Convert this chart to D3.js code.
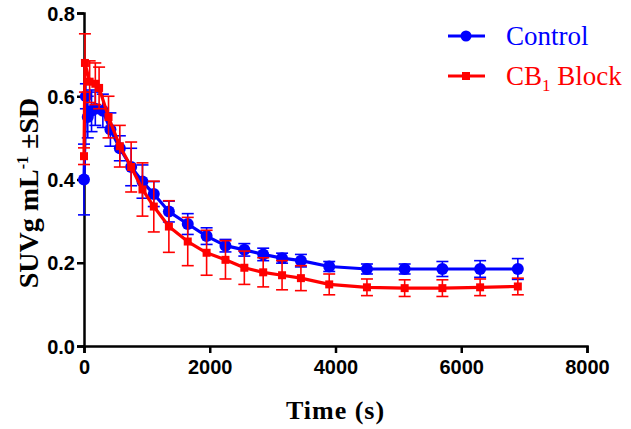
<!DOCTYPE html>
<html>
<head>
<meta charset="utf-8">
<script src="https://cdn.jsdelivr.net/npm/d3@7"></script>
<style>
  body { margin: 0; background: #fff; }
  .tick text { font-family: "Liberation Sans", Arial, sans-serif; font-weight: bold; font-size: 20px; fill: #000; }
</style>
</head>
<body>
<div id="chart"></div>
<script>
// data (time in s, SUV g/mL, SD)
var controlTime = [0, 30, 60, 120, 180, 300, 420, 570, 750, 930, 1110, 1350, 1650, 1950, 2250, 2550, 2850, 3150, 3450, 3900, 4500, 5100, 5700, 6300, 6900];
var controlMean = [0.40, 0.60, 0.55, 0.565, 0.57, 0.565, 0.52, 0.475, 0.43, 0.395, 0.365, 0.323, 0.293, 0.264, 0.241, 0.231, 0.220, 0.211, 0.205, 0.191, 0.185, 0.185, 0.185, 0.185, 0.185];
var controlSD = [0.085, 0.03, 0.05, 0.05, 0.04, 0.04, 0.04, 0.03, 0.045, 0.04, 0.03, 0.025, 0.025, 0.02, 0.015, 0.015, 0.015, 0.012, 0.015, 0.012, 0.012, 0.012, 0.018, 0.02, 0.025];

var blockTime = [0, 15, 90, 180, 240, 390, 570, 750, 930, 1110, 1350, 1650, 1950, 2250, 2550, 2850, 3150, 3450, 3900, 4500, 5100, 5700, 6300, 6900];
var blockMean = [0.456, 0.68, 0.635, 0.63, 0.62, 0.55, 0.48, 0.43, 0.376, 0.335, 0.287, 0.251, 0.224, 0.207, 0.188, 0.177, 0.170, 0.163, 0.148, 0.141, 0.139, 0.139, 0.141, 0.143];
var blockSD = [0.02, 0.07, 0.05, 0.05, 0.05, 0.05, 0.05, 0.06, 0.064, 0.061, 0.062, 0.058, 0.054, 0.046, 0.04, 0.035, 0.035, 0.03, 0.025, 0.02, 0.02, 0.02, 0.02, 0.02];

var xTicks = [0, 2000, 4000, 6000, 8000];
var yTicks = [0.0, 0.2, 0.4, 0.6, 0.8];

var svgWidth = 631, svgHeight = 429;
var margin = { top: 13, right: 44, bottom: 83, left: 84 };
var width = svgWidth - margin.left - margin.right;
var height = svgHeight - margin.top - margin.bottom;

var svg = d3.select("#chart").append("svg")
  .attr("width", svgWidth)
  .attr("height", svgHeight);

var chartGroup = svg.append("g")
  .attr("transform", `translate(${margin.left}, ${margin.top})`);

var xScale = d3.scaleLinear().domain([0, 8000]).range([0, width]);
var yScale = d3.scaleLinear().domain([0, 0.8]).range([height, 0]);

// axes
var bottomAxis = d3.axisBottom(xScale).tickValues(xTicks).tickSize(7).tickPadding(4).tickFormat(d3.format("d"));
var leftAxis = d3.axisLeft(yScale).tickValues(yTicks).tickSize(7).tickPadding(2).tickFormat(d3.format(".1f"));

var xAxisG = chartGroup.append("g")
  .attr("transform", `translate(0, ${height})`)
  .call(bottomAxis);
var yAxisG = chartGroup.append("g").call(leftAxis);

[xAxisG, yAxisG].forEach(function(g) {
  g.select(".domain").attr("stroke", "#000").attr("stroke-width", 2.5);
  g.selectAll(".tick line").attr("stroke", "#000").attr("stroke-width", 2.5);
});
xAxisG.selectAll(".tick text").attr("dy", "0.85em");
yAxisG.selectAll(".tick text").attr("dy", "0.36em");

function buildSeries(times, means, sds) {
  return times.map(function(t, i) { return { t: t, m: means[i], sd: sds[i] }; });
}

var series = [
  { name: "Control", color: "#0000ff", shape: "circle", data: buildSeries(controlTime, controlMean, controlSD) },
  { name: "CB1 Block", color: "#ff0000", shape: "square", data: buildSeries(blockTime, blockMean, blockSD) }
];

var line = d3.line().x(d => xScale(d.t)).y(d => yScale(d.m));
var capW = 6;

series.forEach(function(s) {
  var g = chartGroup.append("g");
  // error bars
  var eb = g.selectAll(".eb").data(s.data).enter().append("g")
    .attr("stroke", s.color).attr("stroke-width", 1.6).attr("fill", "none");
  eb.append("line")
    .attr("x1", d => xScale(d.t)).attr("x2", d => xScale(d.t))
    .attr("y1", d => yScale(d.m - d.sd)).attr("y2", d => yScale(d.m + d.sd));
  eb.append("line")
    .attr("x1", d => xScale(d.t) - capW).attr("x2", d => xScale(d.t) + capW)
    .attr("y1", d => yScale(d.m + d.sd)).attr("y2", d => yScale(d.m + d.sd));
  eb.append("line")
    .attr("x1", d => xScale(d.t) - capW).attr("x2", d => xScale(d.t) + capW)
    .attr("y1", d => yScale(d.m - d.sd)).attr("y2", d => yScale(d.m - d.sd));
  // line
  g.append("path").datum(s.data)
    .attr("d", line).attr("fill", "none")
    .attr("stroke", s.color).attr("stroke-width", 3.2).attr("stroke-linejoin", "round");
  // markers
  if (s.shape === "circle") {
    g.selectAll(".pt").data(s.data).enter().append("circle")
      .attr("cx", d => xScale(d.t)).attr("cy", d => yScale(d.m))
      .attr("r", 6).attr("fill", s.color);
  } else {
    g.selectAll(".pt").data(s.data).enter().append("rect")
      .attr("x", d => xScale(d.t) - 4).attr("y", d => yScale(d.m) - 4)
      .attr("width", 8).attr("height", 8).attr("fill", s.color);
  }
});

// axis titles
svg.append("text")
  .attr("transform", "translate(38, 193) rotate(-90)")
  .attr("text-anchor", "middle")
  .style("font-family", "'Liberation Serif', 'Times New Roman', serif")
  .style("font-weight", "bold").style("font-size", "28px")
  .html('SUVg mL<tspan dy="-10" font-size="16px">-1</tspan><tspan dy="10"> ±SD</tspan>');

svg.append("text")
  .attr("x", margin.left + width / 2).attr("y", 419)
  .attr("text-anchor", "middle")
  .style("font-family", "'Liberation Serif', 'Times New Roman', serif")
  .style("font-weight", "bold").style("font-size", "26px")
  .style("letter-spacing", "1px")
  .text("Time (s)");

// legend
var legend = svg.append("g");
var legendY = [36, 76];
series.forEach(function(s, i) {
  var y = legendY[i];
  legend.append("line").attr("x1", 448).attr("x2", 485).attr("y1", y).attr("y2", y)
    .attr("stroke", s.color).attr("stroke-width", 3.2);
  if (s.shape === "circle") {
    legend.append("circle").attr("cx", 466).attr("cy", y).attr("r", 5.5).attr("fill", s.color);
  } else {
    legend.append("rect").attr("x", 462).attr("y", y - 4).attr("width", 8).attr("height", 8).attr("fill", s.color);
  }
  var t = legend.append("text").attr("x", 506).attr("y", y + 9)
    .attr("fill", s.color)
    .style("font-family", "'Liberation Serif', 'Times New Roman', serif")
    .style("font-size", "27px");
  if (i === 0) {
    t.text("Control");
  } else {
    t.html('CB<tspan dy="6" font-size="17px">1</tspan><tspan dy="-6"> Block</tspan>');
  }
});
</script>
</body>
</html>
